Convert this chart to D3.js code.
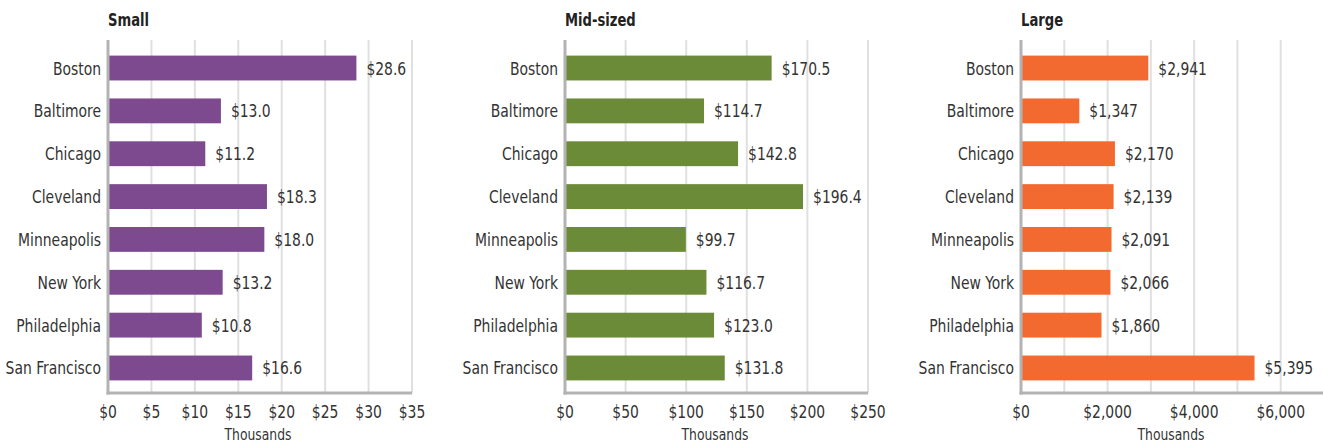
<!DOCTYPE html>
<html>

<head>
    <meta charset='utf-8'>
    <title>City bars</title>
    <script type='text/javascript' src='https://cdn.jsdelivr.net/npm/d3@7'></script>
    <style>
        body { margin: 0; background: #fff; }
        text { font-family: 'Liberation Sans Narrow', 'DejaVu Sans Condensed', sans-serif; fill: #333; }
    </style>
</head>

<body>
    <svg width='1323' height='443'></svg>
    <script type='text/javascript'>
        const cities = ['Boston', 'Baltimore', 'Chicago', 'Cleveland', 'Minneapolis', 'New York', 'Philadelphia', 'San Francisco']
        const smallValues = [28.6, 13.0, 11.2, 18.3, 18.0, 13.2, 10.8, 16.6]
        const midValues = [170.5, 114.7, 142.8, 196.4, 99.7, 116.7, 123.0, 131.8]
        const largeValues = [2941, 1347, 2170, 2139, 2091, 2066, 1860, 5395]
        const smallTicks = [0, 5, 10, 15, 20, 25, 30, 35]
        const midTicks = [0, 50, 100, 150, 200, 250]
        const largeTicks = [0, 2000, 4000, 6000]
        const largeGrid = [1000, 2000, 3000, 4000, 5000, 6000, 7000]

        const panels = [
            { title: 'Small', values: smallValues, max: 35, ticks: smallTicks, grid: smallTicks.slice(1), x0: 108, width: 304, color: '#7d4a8f', fmt: d3.format('.1f'), tickFmt: d3.format(',') },
            { title: 'Mid-sized', values: midValues, max: 250, ticks: midTicks, grid: midTicks.slice(1), x0: 565, width: 303, color: '#6b8b38', fmt: d3.format('.1f'), tickFmt: d3.format(',') },
            { title: 'Large', values: largeValues, max: 7000, ticks: largeTicks, grid: largeGrid, x0: 1021, width: 303, color: '#f26a2f', fmt: d3.format(','), tickFmt: d3.format(',') }
        ]

        const svg = d3.select('svg')
        const plotTop = 40, plotBottom = 393
        // 字体比较宽，水平压缩一下，模仿窄体字
        const squeeze = 0.86
        const place = (x, y) => `translate(${x},${y}) scale(${squeeze},1)`

        // centres of bars at 68 .. 368
        const y = d3.scaleBand().domain(cities)
            .range([46.6, 389.4])
            .paddingInner(0.42)
            .paddingOuter(0.21)

        panels.forEach(p => {
            const x = d3.scaleLinear().domain([0, p.max]).range([p.x0, p.x0 + p.width])
            const g = svg.append('g')

            // 网格线
            g.selectAll('.grid').data(p.grid).enter().append('line')
                .attr('x1', d => x(d)).attr('x2', d => x(d))
                .attr('y1', plotTop).attr('y2', plotBottom)
                .attr('stroke', '#e0e0e0').attr('stroke-width', 2)

            g.selectAll('rect').data(p.values).enter().append('rect')
                .attr('x', x(0))
                .attr('y', (d, i) => y(cities[i]))
                .attr('width', d => x(d) - x(0))
                .attr('height', y.bandwidth())
                .attr('fill', p.color)

            g.selectAll('.val').data(p.values).enter().append('text')
                .attr('transform', (d, i) => place(x(d) + 10, y(cities[i]) + y.bandwidth() / 2))
                .attr('dy', '0.36em')
                .attr('font-size', 18)
                .text(d => '$' + p.fmt(d))

            g.selectAll('.cat').data(cities).enter().append('text')
                .attr('transform', d => place(x(0) - 7, y(d) + y.bandwidth() / 2))
                .attr('dy', '0.36em')
                .attr('text-anchor', 'end')
                .attr('font-size', 18)
                .text(d => d)

            // 坐标轴
            g.append('line')
                .attr('x1', x(0)).attr('x2', x(0))
                .attr('y1', plotTop).attr('y2', plotBottom + 1.5)
                .attr('stroke', '#b3b3b3').attr('stroke-width', 3)
            g.append('line')
                .attr('x1', x(0) - 1.5).attr('x2', p.x0 + p.width)
                .attr('y1', plotBottom).attr('y2', plotBottom)
                .attr('stroke', '#b3b3b3').attr('stroke-width', 3)

            g.selectAll('.tick').data(p.ticks).enter().append('text')
                .attr('transform', d => place(x(d), 412))
                .attr('dy', '0.36em')
                .attr('text-anchor', 'middle')
                .attr('font-size', 18)
                .text(d => '$' + p.tickFmt(d))

            g.append('text')
                .attr('transform', place(p.x0 + 150, 434))
                .attr('dy', '0.36em')
                .attr('text-anchor', 'middle')
                .attr('font-size', 16)
                .text('Thousands')

            g.append('text')
                .attr('transform', place(p.x0, 20))
                .attr('dy', '0.36em')
                .attr('font-size', 17)
                .attr('font-weight', 'bold')
                .style('fill', '#222')
                .text(p.title)
        })
    </script>
</body>

</html>
